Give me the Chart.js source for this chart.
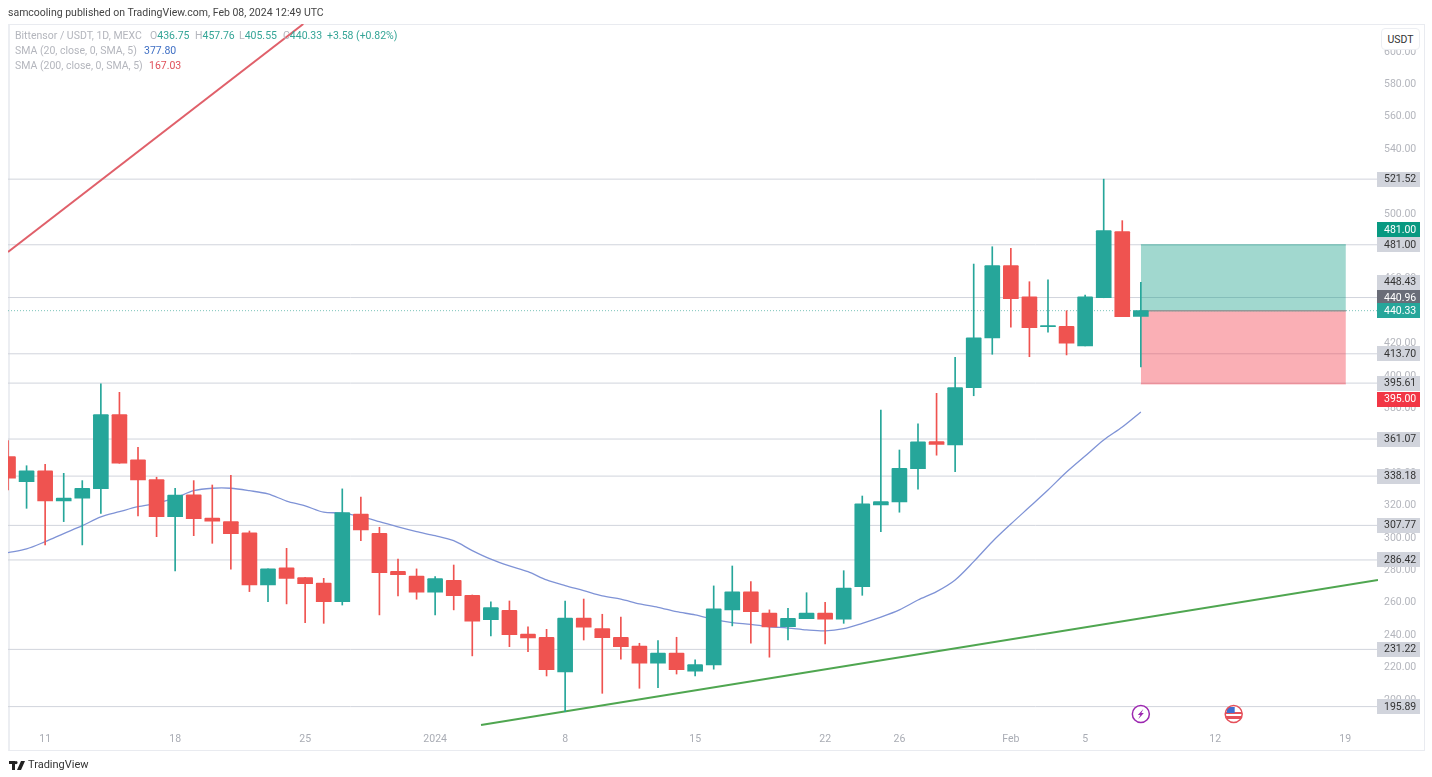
<!DOCTYPE html>
<html>
<head>
<meta charset="utf-8">
<title>Bittensor / USDT</title>
<script src="https://cdn.jsdelivr.net/npm/chart.js@4"></script>
<style>
  html, body { margin: 0; padding: 0; background: #fff; overflow: hidden; }
  body { width: 1432px; height: 777px; position: relative; font-family: Roboto, sans-serif; }
  #frame { position: absolute; left: 8px; top: 24px; width: 1414px; height: 725px; border: 1px solid #e9ebf0; border-left: 2px solid #eceef2; box-sizing: content-box; }
  canvas { position: absolute; left: 0; top: 0; }
  .txt { position: absolute; white-space: nowrap; font-size: 10.5px; line-height: 14px; color: #b4b6bd; }
  .up { color: #35a597; }
  #published { left: 8px; top: 6px; color: #444; }
  #unit { position: absolute; left: 1381px; top: 28px; width: 39px; height: 22px; line-height: 22px; text-align: center; font-size: 10.5px; color: #333; background: #fff; border: 1px solid #eceef2; border-radius: 4px; box-sizing: border-box; }
  #brand { left: 28px; top: 758px; color: #333; font-size: 11px; }
  #logo { position: absolute; left: 9px; top: 761px; }
</style>
</head>
<body>
<div id="frame"></div>
<canvas id="chart" width="1432" height="777"></canvas>
<div class="txt" id="published">samcooling published on TradingView.com, Feb 08, 2024 12:49 UTC</div>
<div class="txt" style="left:15px;top:29px">Bittensor / USDT, 1D, MEXC</div>
<div class="txt" style="left:150px;top:29px">O<span class="up">436.75</span></div>
<div class="txt" style="left:195px;top:29px">H<span class="up">457.76</span></div>
<div class="txt" style="left:239px;top:29px">L<span class="up">405.55</span></div>
<div class="txt" style="left:283px;top:29px">C<span class="up">440.33</span></div>
<div class="txt up" style="left:327px;top:29px">+3.58 (+0.82%)</div>
<div class="txt" style="left:15px;top:44px">SMA (20, close, 0, SMA, 5)</div>
<div class="txt" style="left:144px;top:44px;color:#3f6fc4">377.80</div>
<div class="txt" style="left:15px;top:59px">SMA (200, close, 0, SMA, 5)</div>
<div class="txt" style="left:149px;top:59px;color:#e0505a">167.03</div>
<div id="unit">USDT</div>
<svg id="logo" width="16" height="9" viewBox="0 0 16 9"><path d="M0 0h6v9H3V3H0z M7 0a1.6 1.6 0 1 1 0 3.2A1.6 1.6 0 0 1 7 0z M12 0h4l-4 9H8z" fill="#222"/></svg>
<div class="txt" id="brand">TradingView</div>

<script>
// daily candles, one per day from Dec 9
const opens = [350.2,334.8,341.5,322.8,324.5,330.4,376.1,348.2,336,313.2,326.7,312.3,310.1,303.1,271,281.5,275.5,272.2,260.7,314.8,302.9,279.4,276.5,266.5,273.9,264.6,249.6,255.4,240.7,238.7,217.3,250.6,244,238.7,233.3,222.7,229,217.7,221.6,255.6,266.7,253.7,245.2,250.2,253.7,249.8,269.9,320.4,322.2,342.8,359.5,357.4,392.8,423.5,468.1,448.8,430.4,430.7,418.5,448.3,489.1,436.75];
const closes = [336.9,341.5,322.8,324.7,330.7,376.1,346.1,335.8,313.2,326.4,311.9,310.3,302.7,271,280.9,275.1,271.8,260.7,315.6,304.9,278.6,277.3,266.5,274.9,264.4,248.6,257,240.3,238.3,218.7,250.6,244.9,238.5,232.9,222.7,229,218.7,221.8,256.2,266.7,254.5,245.1,250.4,253.7,249.8,269,321,322.4,343,359.3,357.8,392.8,423.6,468.1,447.7,429.8,431.1,420.2,448.8,489.7,436.6,440.33];
const highs = [360.1,344.6,345.5,339.9,335.4,395.1,389.9,356,337.5,330.7,335.4,332.7,338.7,304.3,280.9,293.6,275.7,275.1,330.3,325.3,306.6,286.9,280.9,276.1,283.3,264.8,260.5,261.1,245.2,243.6,261.1,262.3,252.9,251.1,235,236.6,238.7,224.7,270.4,282.7,273,255.6,256.6,266.2,260.3,279.8,325.9,379,354.3,370.4,389.3,411.5,469.1,479.8,478.8,458.2,459.3,440.3,450,521.52,495.9,457.76];
const lows = [329.6,318.3,295.7,310.1,295.7,315.2,346.1,313.6,300.8,279.6,301.4,296.7,280.7,266.9,260.7,259.3,247.7,247.3,258.6,298.3,252.5,264.2,262.2,252.5,255.6,227.2,239.5,232.9,229.8,214.8,192.8,237,204.1,225.1,207.2,207.6,216,214.8,219,245.7,235,226.4,237,250.2,234.6,247.3,264.6,303.9,315.9,330.1,351.1,340.9,387.8,413.4,430.1,411.9,427,413,418.5,448.3,436.6,405.55];
const sma20 = [290.9,293.2,297.7,302.7,307.6,313,316.2,319.3,321.4,324.7,329.2,330.7,330.7,329.2,327.2,322.8,319.8,315.9,315.4,313.2,310.1,306.8,303.9,301.4,298.3,292.2,286.9,282.7,279.2,274.1,270.6,267.5,264.2,262.2,259.3,257.2,254.5,252.5,249.7,247.8,246.7,245.2,244.4,243.2,242.6,244,247.3,251.1,255.6,261.7,266.9,274.1,285.4,297.7,308.6,319.1,329.6,340.7,350.6,360.5,368.5,377.8];

// drawn lines: [day, price] ends
const redLineDays = [0, 15.9];
const redLinePrices = [476.6, 617.3];
const greenLineDays = [25.47, 73.77];
const greenLinePrices = [184.6, 274.1];

// horizontal levels and the long position box
const levels = [521.52, 481, 448.43, 413.7, 395.61, 361.07, 338.18, 307.77, 286.42, 231.22, 195.89];
const lastPrice = 440.33;
const boxDays = [61, 72.04];
const boxTarget = 481;
const boxEntry = 440.33;
const boxStop = 395;

// axes
const dayMin = 0;
const dayMax = 73.77;
const priceMin = 183.3;
const priceMax = 617.3;
const tickDays = [2, 9, 16, 23, 30, 37, 44, 48, 54, 58, 65, 72];
const tickLabels = ["11", "18", "25", "2024", "8", "15", "22", "26", "Feb", "5", "12", "19"];
const priceTicks = [200, 220, 240, 260, 280, 300, 320, 340, 360, 380, 400, 420, 440, 460, 480, 500, 520, 540, 560, 580, 600];

// price tags on the axis
const tagTexts = ["521.52", "481.00", "481.00", "448.43", "440.96", "440.33", "413.70", "395.61", "395.00", "361.07", "338.18", "307.77", "286.42", "231.22", "195.89"];
const tagPrices = [521.52, 481, 481, 448.43, 448.43, 440.33, 413.7, 395.61, 395, 361.07, 338.18, 307.77, 286.42, 231.22, 195.89];
// tags pushed up or down so they do not overlap
const tagNudge = [0, -15, 0, -15.5, 0, 0, 0, 0, 15, 0, 0, 0, 0, 0, 0];
const tagFill = ["#d1d4dc", "#089981", "#d1d4dc", "#d1d4dc", "#6a6d78", "#26a69a", "#d1d4dc", "#d1d4dc", "#f23645", "#d1d4dc", "#d1d4dc", "#d1d4dc", "#d1d4dc", "#d1d4dc", "#d1d4dc"];
const tagInk = ["#333", "#fff", "#333", "#333", "#fff", "#fff", "#333", "#333", "#fff", "#333", "#333", "#333", "#333", "#333", "#333"];

const eventDays = [61, 66];

const UP = "#26a69a";
const DOWN = "#ef5350";
const candleColors = opens.map((o, i) => (closes[i] >= o ? UP : DOWN));

function twoPoints(xs, ys) {
  return [{ x: xs[0], y: ys[0] }, { x: xs[1], y: ys[1] }];
}

function lineSet(data, color, width, order, extra) {
  return Object.assign({
    type: "line", data: data, borderColor: color, borderWidth: width,
    pointRadius: 0, tension: 0, fill: false, order: order
  }, extra || {});
}

const datasets = [];

// candles on top, wicks then bodies
datasets.push({
  type: "bar",
  data: opens.map((o, i) => ({ x: i, y: [Math.min(o, closes[i]), Math.max(o, closes[i])] })),
  backgroundColor: candleColors, barThickness: 15, grouped: false, borderRadius: 1, order: 1
});
datasets.push({
  type: "bar",
  data: lows.map((l, i) => ({ x: i, y: [l, highs[i]] })),
  backgroundColor: candleColors, barThickness: 1, grouped: false, order: 2
});

datasets.push(lineSet(sma20.map((v, i) => ({ x: i, y: v })), "#7f93d6", 1.3, 3, { tension: 0.3 }));
datasets.push(lineSet(twoPoints(redLineDays, redLinePrices), "#e0606a", 2, 3));
datasets.push(lineSet(twoPoints(greenLineDays, greenLinePrices), "#4fa650", 2, 3));

// position box
datasets.push(lineSet(twoPoints(boxDays, [boxEntry, boxEntry]), "#8f9a98", 1.5, 4));
datasets.push(lineSet(twoPoints(boxDays, [boxTarget, boxTarget]), "rgba(8,153,129,0.45)", 1, 5,
  { fill: { value: boxEntry }, backgroundColor: "rgba(8,153,129,0.38)" }));
datasets.push(lineSet(twoPoints(boxDays, [boxStop, boxStop]), "rgba(242,54,69,0.3)", 1, 5,
  { fill: { value: boxEntry }, backgroundColor: "rgba(242,54,69,0.4)" }));

// level lines at the back
levels.forEach(v => {
  datasets.push(lineSet(twoPoints([dayMin, dayMax], [v, v]), "#d1d4dc", 1, 6));
});
datasets.push(lineSet(twoPoints([dayMin, dayMax], [lastPrice, lastPrice]), "#7cc4bb", 1, 6, { borderDash: [1, 2] }));

const overlays = {
  id: "overlays",
  afterDraw(chart) {
    const c = chart.ctx;
    const y = chart.scales.y;
    const x = chart.scales.x;
    c.save();
    c.font = "10.5px Roboto, sans-serif";
    c.textBaseline = "middle";
    c.textAlign = "left";
    tagTexts.forEach((t, i) => {
      const py = y.getPixelForValue(tagPrices[i]) + tagNudge[i];
      c.fillStyle = tagFill[i];
      c.fillRect(1377, Math.round(py - 7.5), 43, 15);
      c.fillStyle = tagInk[i];
      c.fillText(t, 1384, Math.round(py) + 0.5);
    });

    // event marks near the time axis
    const ey = 714;
    const bx = x.getPixelForValue(eventDays[0]);
    c.lineWidth = 1.5;
    c.strokeStyle = "#9c27b0";
    c.fillStyle = "#fff";
    c.beginPath(); c.arc(bx, ey, 8.5, 0, Math.PI * 2); c.fill(); c.stroke();
    c.fillStyle = "#9c27b0";
    c.beginPath();
    c.moveTo(bx + 2.5, ey - 5); c.lineTo(bx - 3, ey + 1); c.lineTo(bx - 0.5, ey + 1);
    c.lineTo(bx - 2.5, ey + 5); c.lineTo(bx + 3, ey - 1); c.lineTo(bx + 0.5, ey - 1);
    c.closePath(); c.fill();

    const fx = x.getPixelForValue(eventDays[1]);
    c.save();
    c.beginPath(); c.arc(fx, ey, 8.5, 0, Math.PI * 2); c.clip();
    c.fillStyle = "#fff"; c.fillRect(fx - 9, ey - 9, 18, 18);
    c.fillStyle = "#e5505a";
    c.fillRect(fx - 9, ey - 2, 18, 2);
    c.fillRect(fx - 9, ey + 2, 18, 3);
    c.fillStyle = "#3f6fd0"; c.fillRect(fx - 7, ey - 7, 8, 6);
    c.restore();
    c.strokeStyle = "#e5505a";
    c.beginPath(); c.arc(fx, ey, 8.5, 0, Math.PI * 2); c.stroke();
    c.restore();
  }
};

new Chart(document.getElementById("chart"), {
  data: { datasets: datasets },
  plugins: [overlays],
  options: {
    responsive: false,
    animation: false,
    events: [],
    layout: { padding: { left: 8, top: 24, right: 8, bottom: 27 } },
    plugins: { legend: { display: false }, tooltip: { enabled: false } },
    scales: {
      x: {
        type: "linear", min: dayMin, max: dayMax, offset: false,
        grid: { display: false, drawTicks: false }, border: { display: false },
        afterFit(s) { s.height = 23; },
        afterBuildTicks(s) { s.ticks = tickDays.map(v => ({ value: v })); },
        ticks: {
          autoSkip: false, maxRotation: 0, padding: 6, color: "#a9acb4",
          font: { family: "Roboto, sans-serif", size: 10.5 },
          callback: v => tickLabels[tickDays.indexOf(v)]
        }
      },
      y: {
        type: "linear", position: "right", min: priceMin, max: priceMax,
        grid: { display: false, drawTicks: false }, border: { display: false },
        afterFit(s) { s.width = 46; },
        afterBuildTicks(s) { s.ticks = priceTicks.map(v => ({ value: v })); },
        ticks: {
          autoSkip: false, padding: 6, color: "#b4b6bd",
          font: { family: "Roboto, sans-serif", size: 10.5 },
          callback: v => v.toFixed(2)
        }
      }
    }
  }
});
</script>
</body>
</html>
